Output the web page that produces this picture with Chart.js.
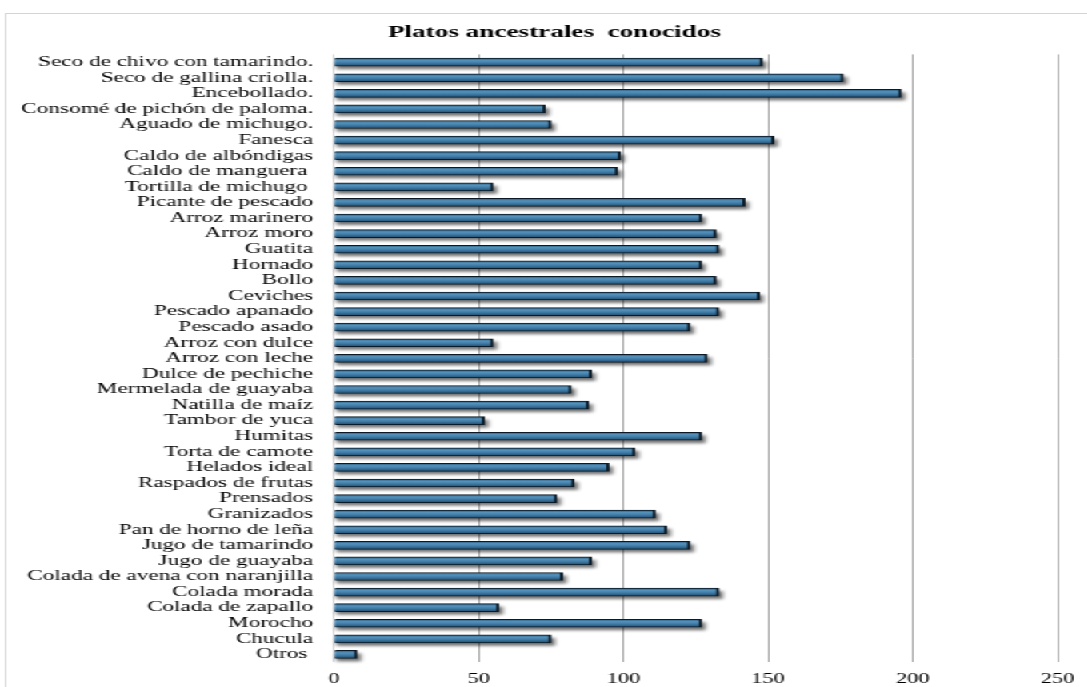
<!DOCTYPE html>
<html lang="es">
<head>
<meta charset="utf-8">
<title>Platos ancestrales conocidos</title>
<script src="https://cdn.jsdelivr.net/npm/chart.js@4/dist/chart.umd.min.js"></script>
<style>
  html, body { margin: 0; padding: 0; background: #ffffff; overflow: hidden; }
  body { width: 1087px; height: 687px; position: relative; }
  /* The whole figure is drawn in a narrower frame and widened horizontally */
  #stage {
    position: absolute; left: 0; top: 0;
    width: 700px; height: 687px;
    transform: scaleX(1.6); transform-origin: 0 0;
  }
  #frame {
    position: absolute; left: 3px; top: 13px;
    width: 700px; height: 720px;
    border: 1px solid #d4d4d4;
    background: #ffffff;
  }
  #chart { display: block; }
</style>
</head>
<body>
<div id="stage">
  <div id="frame">
    <canvas id="chart" width="685" height="690"></canvas>
  </div>
</div>
<script>
// Dishes, top to bottom
const platos = [
  'Seco de chivo con tamarindo.',
  'Seco de gallina criolla.',
  'Encebollado.',
  'Consomé de pichón de paloma.',
  'Aguado de michugo.',
  'Fanesca',
  'Caldo de albóndigas',
  'Caldo de manguera ',
  'Tortilla de michugo ',
  'Picante de pescado',
  'Arroz marinero',
  'Arroz moro',
  'Guatita',
  'Hornado',
  'Bollo',
  'Ceviches',
  'Pescado apanado',
  'Pescado asado',
  'Arroz con dulce',
  'Arroz con leche',
  'Dulce de pechiche',
  'Mermelada de guayaba',
  'Natilla de maíz',
  'Tambor de yuca',
  'Humitas',
  'Torta de camote',
  'Helados ideal',
  'Raspados de frutas',
  'Prensados',
  'Granizados',
  'Pan de horno de leña',
  'Jugo de tamarindo',
  'Jugo de guayaba',
  'Colada de avena con naranjilla',
  'Colada morada',
  'Colada de zapallo',
  'Morocho',
  'Chucula',
  'Otros '
];

// Number of people who know each dish
const conocidos = [
  148, 176, 196, 73, 75, 152, 99, 98, 55, 142,
  127, 132, 133, 127, 132, 147, 133, 123, 55, 129,
  89, 82, 88, 52, 127, 104, 95, 83, 77, 111,
  115, 123, 89, 79, 133, 57, 127, 75, 8
];

// Value axis
const ejeMin = 0;
const ejeMax = 250;
const ejePaso = 50;

const titulo = 'Platos ancestrales  conocidos';

const serif = "'Liberation Serif', 'Times New Roman', Times, serif";

// Soft drop shadow under every bar
const sombraBarras = {
  id: 'sombraBarras',
  beforeDatasetDraw(chart, args) {
    const ctx = chart.ctx;
    const meta = args.meta;
    ctx.save();
    ctx.filter = 'blur(1.6px)';
    ctx.fillStyle = 'rgba(0, 0, 0, 0.55)';
    for (const bar of meta.data) {
      const left = Math.min(bar.base, bar.x);
      const w = Math.abs(bar.x - bar.base);
      ctx.fillRect(left + 1, bar.y - bar.height / 2 + 3, w + 1.5, bar.height);
    }
    ctx.restore();
  }
};

// Vertical cylinder-like shading across each bar
function rellenoBarra(context) {
  const chart = context.chart;
  const ys = chart.scales.y;
  if (!ys || ys.top === undefined || context.dataIndex === undefined) return '#3b74a0';
  const yc = ys.getPixelForValue(context.dataIndex);
  const g = chart.ctx.createLinearGradient(0, yc - 4, 0, yc + 4);
  g.addColorStop(0, '#2a5a7e');
  g.addColorStop(0.3, '#5592bb');
  g.addColorStop(0.6, '#3f7ba6');
  g.addColorStop(1, '#214b6c');
  return g;
}

new Chart(document.getElementById('chart'), {
  type: 'bar',
  data: {
    labels: platos,
    datasets: [{
      data: conocidos,
      backgroundColor: rellenoBarra,
      borderColor: '#0b1a26',
      borderWidth: { top: 1, bottom: 1, right: 2, left: 0 },
      borderSkipped: false,
      barThickness: 8
    }]
  },
  options: {
    indexAxis: 'y',
    responsive: false,
    animation: false,
    devicePixelRatio: 1,
    layout: { padding: { left: 0, right: 0, top: 0, bottom: 7 } },
    plugins: {
      legend: { display: false },
      tooltip: { enabled: false },
      title: {
        display: true,
        text: titulo,
        color: '#000000',
        font: { family: serif, size: 17, weight: 'bold' },
        padding: { top: 8, bottom: 12 }
      }
    },
    scales: {
      x: {
        min: ejeMin,
        max: ejeMax,
        ticks: {
          stepSize: ejePaso,
          color: '#000000',
          padding: 9,
          font: { family: serif, size: 14 }
        },
        grid: {
          drawTicks: false,
          lineWidth: 1,
          color: (c) => (c.tick && c.tick.value === 0 ? '#d2d2d2' : '#a8a8a8')
        },
        border: { display: false }
      },
      y: {
        afterFit(scale) { scale.width = 204.75; },
        ticks: {
          color: '#000000',
          padding: 13,
          autoSkip: false,
          font: { family: serif, size: 14.5 }
        },
        grid: { display: false, drawTicks: false },
        border: { display: false }
      },
      // empty margin on the right of the plot
      margenDer: {
        type: 'category',
        position: 'right',
        afterFit(scale) { scale.width = 28; },
        ticks: { display: false },
        grid: { display: false, drawTicks: false },
        border: { display: false }
      }
    }
  },
  plugins: [sombraBarras]
});
</script>
</body>
</html>
